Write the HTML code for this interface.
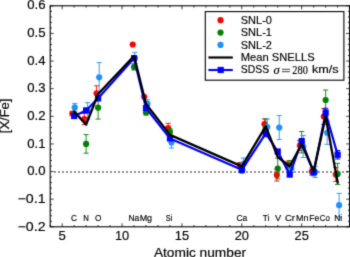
<!DOCTYPE html><html><head><meta charset="utf-8"><style>html,body{margin:0;padding:0;background:#fff;width:350px;height:257px;overflow:hidden}svg{display:block;will-change:transform}text{fill:#000;stroke:#000;stroke-width:0.16px}</style></head><body><svg width="350" height="257" viewBox="0 0 350 257"><defs><filter id="bl" x="0" y="0" width="100%" height="100%" color-interpolation-filters="sRGB"><feConvolveMatrix order="3" kernelMatrix="0.0192 0.1001 0.0192 0.1001 0.5228 0.1001 0.0192 0.1001 0.0192" edgeMode="duplicate"/></filter></defs><g filter="url(#bl)"><rect width="350" height="257" fill="#fff"/><line x1="54.15" y1="172" x2="349.6" y2="172" stroke="#000" stroke-width="1.1" stroke-dasharray="1.7 2.3"/><line x1="72.35" y1="111.5" x2="72.35" y2="115.5" stroke="#ff0000" stroke-width="0.9"/><line x1="69.75" y1="111.5" x2="74.95" y2="111.5" stroke="#ff0000" stroke-width="0.9"/><line x1="69.75" y1="115.5" x2="74.95" y2="115.5" stroke="#ff0000" stroke-width="0.9"/><circle cx="72.35" cy="113.5" r="3.1" fill="#ff0000"/><line x1="84.33" y1="113.4" x2="84.33" y2="124.6" stroke="#ff0000" stroke-width="0.9"/><line x1="81.73" y1="113.4" x2="86.93" y2="113.4" stroke="#ff0000" stroke-width="0.9"/><line x1="81.73" y1="124.6" x2="86.93" y2="124.6" stroke="#ff0000" stroke-width="0.9"/><circle cx="84.33" cy="119" r="3.1" fill="#ff0000"/><line x1="96.6" y1="85.8" x2="96.6" y2="100.8" stroke="#ff0000" stroke-width="0.9"/><line x1="94" y1="85.8" x2="99.2" y2="85.8" stroke="#ff0000" stroke-width="0.9"/><line x1="94" y1="100.8" x2="99.2" y2="100.8" stroke="#ff0000" stroke-width="0.9"/><circle cx="96.6" cy="93.3" r="3.1" fill="#ff0000"/><circle cx="132.73" cy="44.5" r="3.1" fill="#ff0000"/><circle cx="144.21" cy="96.8" r="3.1" fill="#ff0000"/><line x1="168.16" y1="123.3" x2="168.16" y2="132.7" stroke="#ff0000" stroke-width="0.9"/><line x1="165.56" y1="123.3" x2="170.76" y2="123.3" stroke="#ff0000" stroke-width="0.9"/><line x1="165.56" y1="132.7" x2="170.76" y2="132.7" stroke="#ff0000" stroke-width="0.9"/><circle cx="168.16" cy="128" r="3.1" fill="#ff0000"/><line x1="240.02" y1="162.5" x2="240.02" y2="167.5" stroke="#ff0000" stroke-width="0.9"/><line x1="237.42" y1="162.5" x2="242.62" y2="162.5" stroke="#ff0000" stroke-width="0.9"/><line x1="237.42" y1="167.5" x2="242.62" y2="167.5" stroke="#ff0000" stroke-width="0.9"/><circle cx="240.02" cy="165" r="3.1" fill="#ff0000"/><line x1="264.47" y1="118.9" x2="264.47" y2="129.3" stroke="#ff0000" stroke-width="0.9"/><line x1="261.87" y1="118.9" x2="267.07" y2="118.9" stroke="#ff0000" stroke-width="0.9"/><line x1="261.87" y1="129.3" x2="267.07" y2="129.3" stroke="#ff0000" stroke-width="0.9"/><circle cx="264.47" cy="124.1" r="3.1" fill="#ff0000"/><line x1="276.84" y1="169" x2="276.84" y2="181" stroke="#ff0000" stroke-width="0.9"/><line x1="274.24" y1="169" x2="279.44" y2="169" stroke="#ff0000" stroke-width="0.9"/><line x1="274.24" y1="181" x2="279.44" y2="181" stroke="#ff0000" stroke-width="0.9"/><circle cx="276.84" cy="175" r="3.1" fill="#ff0000"/><line x1="287.92" y1="161.2" x2="287.92" y2="168.8" stroke="#ff0000" stroke-width="0.9"/><line x1="285.32" y1="161.2" x2="290.52" y2="161.2" stroke="#ff0000" stroke-width="0.9"/><line x1="285.32" y1="168.8" x2="290.52" y2="168.8" stroke="#ff0000" stroke-width="0.9"/><circle cx="287.92" cy="165" r="3.1" fill="#ff0000"/><line x1="299.9" y1="140.5" x2="299.9" y2="150.5" stroke="#ff0000" stroke-width="0.9"/><line x1="297.3" y1="140.5" x2="302.5" y2="140.5" stroke="#ff0000" stroke-width="0.9"/><line x1="297.3" y1="150.5" x2="302.5" y2="150.5" stroke="#ff0000" stroke-width="0.9"/><circle cx="299.9" cy="145.5" r="3.1" fill="#ff0000"/><line x1="311.87" y1="168.1" x2="311.87" y2="175.1" stroke="#ff0000" stroke-width="0.9"/><line x1="309.27" y1="168.1" x2="314.47" y2="168.1" stroke="#ff0000" stroke-width="0.9"/><line x1="309.27" y1="175.1" x2="314.47" y2="175.1" stroke="#ff0000" stroke-width="0.9"/><circle cx="311.87" cy="171.6" r="3.1" fill="#ff0000"/><line x1="323.85" y1="108.5" x2="323.85" y2="124.5" stroke="#ff0000" stroke-width="0.9"/><line x1="321.25" y1="108.5" x2="326.45" y2="108.5" stroke="#ff0000" stroke-width="0.9"/><line x1="321.25" y1="124.5" x2="326.45" y2="124.5" stroke="#ff0000" stroke-width="0.9"/><circle cx="323.85" cy="116.5" r="3.1" fill="#ff0000"/><line x1="335.82" y1="167.5" x2="335.82" y2="181.5" stroke="#ff0000" stroke-width="0.9"/><line x1="333.22" y1="167.5" x2="338.42" y2="167.5" stroke="#ff0000" stroke-width="0.9"/><line x1="333.22" y1="181.5" x2="338.42" y2="181.5" stroke="#ff0000" stroke-width="0.9"/><circle cx="335.82" cy="174.5" r="3.1" fill="#ff0000"/><line x1="74.15" y1="112.5" x2="74.15" y2="116.5" stroke="#008000" stroke-width="0.9"/><line x1="71.55" y1="112.5" x2="76.75" y2="112.5" stroke="#008000" stroke-width="0.9"/><line x1="71.55" y1="116.5" x2="76.75" y2="116.5" stroke="#008000" stroke-width="0.9"/><circle cx="74.15" cy="114.5" r="3.1" fill="#008000"/><line x1="86.13" y1="134.6" x2="86.13" y2="153.2" stroke="#008000" stroke-width="0.9"/><line x1="83.53" y1="134.6" x2="88.73" y2="134.6" stroke="#008000" stroke-width="0.9"/><line x1="83.53" y1="153.2" x2="88.73" y2="153.2" stroke="#008000" stroke-width="0.9"/><circle cx="86.13" cy="143.9" r="3.1" fill="#008000"/><line x1="98.1" y1="96.3" x2="98.1" y2="119.1" stroke="#008000" stroke-width="0.9"/><line x1="95.5" y1="96.3" x2="100.7" y2="96.3" stroke="#008000" stroke-width="0.9"/><line x1="95.5" y1="119.1" x2="100.7" y2="119.1" stroke="#008000" stroke-width="0.9"/><circle cx="98.1" cy="107.7" r="3.1" fill="#008000"/><line x1="134.03" y1="64" x2="134.03" y2="70" stroke="#008000" stroke-width="0.9"/><line x1="131.43" y1="64" x2="136.63" y2="64" stroke="#008000" stroke-width="0.9"/><line x1="131.43" y1="70" x2="136.63" y2="70" stroke="#008000" stroke-width="0.9"/><circle cx="134.03" cy="67" r="3.1" fill="#008000"/><line x1="146.01" y1="109.8" x2="146.01" y2="115" stroke="#008000" stroke-width="0.9"/><line x1="143.41" y1="109.8" x2="148.61" y2="109.8" stroke="#008000" stroke-width="0.9"/><line x1="143.41" y1="115" x2="148.61" y2="115" stroke="#008000" stroke-width="0.9"/><circle cx="146.01" cy="112.4" r="3.1" fill="#008000"/><line x1="169.96" y1="128.8" x2="169.96" y2="134.8" stroke="#008000" stroke-width="0.9"/><line x1="167.36" y1="128.8" x2="172.56" y2="128.8" stroke="#008000" stroke-width="0.9"/><line x1="167.36" y1="134.8" x2="172.56" y2="134.8" stroke="#008000" stroke-width="0.9"/><circle cx="169.96" cy="131.8" r="3.1" fill="#008000"/><line x1="241.82" y1="168" x2="241.82" y2="173" stroke="#008000" stroke-width="0.9"/><line x1="239.22" y1="168" x2="244.42" y2="168" stroke="#008000" stroke-width="0.9"/><line x1="239.22" y1="173" x2="244.42" y2="173" stroke="#008000" stroke-width="0.9"/><circle cx="241.82" cy="170.5" r="3.1" fill="#008000"/><line x1="265.77" y1="119" x2="265.77" y2="136" stroke="#008000" stroke-width="0.9"/><line x1="263.17" y1="119" x2="268.37" y2="119" stroke="#008000" stroke-width="0.9"/><line x1="263.17" y1="136" x2="268.37" y2="136" stroke="#008000" stroke-width="0.9"/><circle cx="265.77" cy="127.5" r="3.1" fill="#008000"/><line x1="277.74" y1="158.2" x2="277.74" y2="178.8" stroke="#008000" stroke-width="0.9"/><line x1="275.14" y1="158.2" x2="280.34" y2="158.2" stroke="#008000" stroke-width="0.9"/><line x1="275.14" y1="178.8" x2="280.34" y2="178.8" stroke="#008000" stroke-width="0.9"/><circle cx="277.74" cy="168.5" r="3.1" fill="#008000"/><line x1="289.72" y1="160.5" x2="289.72" y2="170.5" stroke="#008000" stroke-width="0.9"/><line x1="287.12" y1="160.5" x2="292.32" y2="160.5" stroke="#008000" stroke-width="0.9"/><line x1="287.12" y1="170.5" x2="292.32" y2="170.5" stroke="#008000" stroke-width="0.9"/><circle cx="289.72" cy="165.5" r="3.1" fill="#008000"/><line x1="301.7" y1="131.5" x2="301.7" y2="152.9" stroke="#008000" stroke-width="0.9"/><line x1="299.1" y1="131.5" x2="304.3" y2="131.5" stroke="#008000" stroke-width="0.9"/><line x1="299.1" y1="152.9" x2="304.3" y2="152.9" stroke="#008000" stroke-width="0.9"/><circle cx="301.7" cy="142.2" r="3.1" fill="#008000"/><line x1="313.67" y1="168.8" x2="313.67" y2="175.8" stroke="#008000" stroke-width="0.9"/><line x1="311.07" y1="168.8" x2="316.27" y2="168.8" stroke="#008000" stroke-width="0.9"/><line x1="311.07" y1="175.8" x2="316.27" y2="175.8" stroke="#008000" stroke-width="0.9"/><circle cx="313.67" cy="172.3" r="3.1" fill="#008000"/><line x1="325.65" y1="90" x2="325.65" y2="110" stroke="#008000" stroke-width="0.9"/><line x1="323.05" y1="90" x2="328.25" y2="90" stroke="#008000" stroke-width="0.9"/><line x1="323.05" y1="110" x2="328.25" y2="110" stroke="#008000" stroke-width="0.9"/><circle cx="325.65" cy="100" r="3.1" fill="#008000"/><line x1="337.62" y1="163.3" x2="337.62" y2="184.5" stroke="#008000" stroke-width="0.9"/><line x1="335.02" y1="163.3" x2="340.22" y2="163.3" stroke="#008000" stroke-width="0.9"/><line x1="335.02" y1="184.5" x2="340.22" y2="184.5" stroke="#008000" stroke-width="0.9"/><circle cx="337.62" cy="173.9" r="3.1" fill="#008000"/><line x1="74.75" y1="103.4" x2="74.75" y2="111.4" stroke="#1e90ff" stroke-width="0.9"/><line x1="72.15" y1="103.4" x2="77.35" y2="103.4" stroke="#1e90ff" stroke-width="0.9"/><line x1="72.15" y1="111.4" x2="77.35" y2="111.4" stroke="#1e90ff" stroke-width="0.9"/><circle cx="74.75" cy="107.4" r="3.1" fill="#1e90ff"/><line x1="87.63" y1="102.6" x2="87.63" y2="119.2" stroke="#1e90ff" stroke-width="0.9"/><line x1="85.03" y1="102.6" x2="90.23" y2="102.6" stroke="#1e90ff" stroke-width="0.9"/><line x1="85.03" y1="119.2" x2="90.23" y2="119.2" stroke="#1e90ff" stroke-width="0.9"/><circle cx="87.63" cy="110.9" r="3.1" fill="#1e90ff"/><line x1="99.2" y1="62.6" x2="99.2" y2="92" stroke="#1e90ff" stroke-width="0.9"/><line x1="96.6" y1="62.6" x2="101.8" y2="62.6" stroke="#1e90ff" stroke-width="0.9"/><line x1="96.6" y1="92" x2="101.8" y2="92" stroke="#1e90ff" stroke-width="0.9"/><circle cx="99.2" cy="77.3" r="3.1" fill="#1e90ff"/><line x1="134.83" y1="52.4" x2="134.83" y2="63.6" stroke="#1e90ff" stroke-width="0.9"/><line x1="132.23" y1="52.4" x2="137.43" y2="52.4" stroke="#1e90ff" stroke-width="0.9"/><line x1="132.23" y1="63.6" x2="137.43" y2="63.6" stroke="#1e90ff" stroke-width="0.9"/><circle cx="134.83" cy="58" r="3.1" fill="#1e90ff"/><line x1="147.51" y1="99.8" x2="147.51" y2="107.8" stroke="#1e90ff" stroke-width="0.9"/><line x1="144.91" y1="99.8" x2="150.11" y2="99.8" stroke="#1e90ff" stroke-width="0.9"/><line x1="144.91" y1="107.8" x2="150.11" y2="107.8" stroke="#1e90ff" stroke-width="0.9"/><circle cx="147.51" cy="103.8" r="3.1" fill="#1e90ff"/><line x1="171.46" y1="136.9" x2="171.46" y2="148.1" stroke="#1e90ff" stroke-width="0.9"/><line x1="168.86" y1="136.9" x2="174.06" y2="136.9" stroke="#1e90ff" stroke-width="0.9"/><line x1="168.86" y1="148.1" x2="174.06" y2="148.1" stroke="#1e90ff" stroke-width="0.9"/><circle cx="171.46" cy="142.5" r="3.1" fill="#1e90ff"/><line x1="243.32" y1="158" x2="243.32" y2="170" stroke="#1e90ff" stroke-width="0.9"/><line x1="240.72" y1="158" x2="245.92" y2="158" stroke="#1e90ff" stroke-width="0.9"/><line x1="240.72" y1="170" x2="245.92" y2="170" stroke="#1e90ff" stroke-width="0.9"/><circle cx="243.32" cy="164" r="3.1" fill="#1e90ff"/><line x1="267.27" y1="119" x2="267.27" y2="135" stroke="#1e90ff" stroke-width="0.9"/><line x1="264.67" y1="119" x2="269.87" y2="119" stroke="#1e90ff" stroke-width="0.9"/><line x1="264.67" y1="135" x2="269.87" y2="135" stroke="#1e90ff" stroke-width="0.9"/><circle cx="267.27" cy="127" r="3.1" fill="#1e90ff"/><line x1="279.24" y1="115.5" x2="279.24" y2="139.5" stroke="#1e90ff" stroke-width="0.9"/><line x1="276.64" y1="115.5" x2="281.84" y2="115.5" stroke="#1e90ff" stroke-width="0.9"/><line x1="276.64" y1="139.5" x2="281.84" y2="139.5" stroke="#1e90ff" stroke-width="0.9"/><circle cx="279.24" cy="127.5" r="3.1" fill="#1e90ff"/><line x1="291.22" y1="164.5" x2="291.22" y2="172.5" stroke="#1e90ff" stroke-width="0.9"/><line x1="288.62" y1="164.5" x2="293.82" y2="164.5" stroke="#1e90ff" stroke-width="0.9"/><line x1="288.62" y1="172.5" x2="293.82" y2="172.5" stroke="#1e90ff" stroke-width="0.9"/><circle cx="291.22" cy="168.5" r="3.1" fill="#1e90ff"/><line x1="303.2" y1="135.5" x2="303.2" y2="157.5" stroke="#1e90ff" stroke-width="0.9"/><line x1="300.6" y1="135.5" x2="305.8" y2="135.5" stroke="#1e90ff" stroke-width="0.9"/><line x1="300.6" y1="157.5" x2="305.8" y2="157.5" stroke="#1e90ff" stroke-width="0.9"/><circle cx="303.2" cy="146.5" r="3.1" fill="#1e90ff"/><line x1="315.17" y1="166.5" x2="315.17" y2="177.5" stroke="#1e90ff" stroke-width="0.9"/><line x1="312.57" y1="166.5" x2="317.77" y2="166.5" stroke="#1e90ff" stroke-width="0.9"/><line x1="312.57" y1="177.5" x2="317.77" y2="177.5" stroke="#1e90ff" stroke-width="0.9"/><circle cx="315.17" cy="172" r="3.1" fill="#1e90ff"/><line x1="327.15" y1="121.2" x2="327.15" y2="144.4" stroke="#1e90ff" stroke-width="0.9"/><line x1="324.55" y1="121.2" x2="329.75" y2="121.2" stroke="#1e90ff" stroke-width="0.9"/><line x1="324.55" y1="144.4" x2="329.75" y2="144.4" stroke="#1e90ff" stroke-width="0.9"/><circle cx="327.15" cy="132.8" r="3.1" fill="#1e90ff"/><line x1="339.12" y1="193.4" x2="339.12" y2="217" stroke="#1e90ff" stroke-width="0.9"/><line x1="336.52" y1="193.4" x2="341.72" y2="193.4" stroke="#1e90ff" stroke-width="0.9"/><line x1="336.52" y1="217" x2="341.72" y2="217" stroke="#1e90ff" stroke-width="0.9"/><circle cx="339.12" cy="205.2" r="3.1" fill="#1e90ff"/><path d="M265.77 129.8V136.8M263.17 129.8H268.37M263.17 136.8H268.37" stroke="#0000ff" stroke-width="1.1" fill="none"/><path d="M325.65 108.3V117.1M323.05 108.3H328.25M323.05 117.1H328.25" stroke="#0000ff" stroke-width="1.1" fill="none"/><path d="M337.62 150.6V159M335.02 150.6H340.22M335.02 159H340.22" stroke="#0000ff" stroke-width="1.1" fill="none"/><polyline points="74.15,116 86.13,110.4 98.1,98.3 134.03,58.2 146.01,108 169.96,138.4 241.82,169.8 265.77,133.3 277.74,151.5 289.72,174.6 301.7,141.1 313.67,172.2 325.65,112.7 337.62,154.8" fill="none" stroke="#0000ff" stroke-width="2.2" stroke-linejoin="round" stroke-linecap="square"/><rect x="71.05" y="112.9" width="6.2" height="6.2" fill="#0000ff"/><rect x="83.03" y="107.3" width="6.2" height="6.2" fill="#0000ff"/><rect x="95" y="95.2" width="6.2" height="6.2" fill="#0000ff"/><rect x="130.93" y="55.1" width="6.2" height="6.2" fill="#0000ff"/><rect x="142.91" y="104.9" width="6.2" height="6.2" fill="#0000ff"/><rect x="166.86" y="135.3" width="6.2" height="6.2" fill="#0000ff"/><rect x="238.72" y="166.7" width="6.2" height="6.2" fill="#0000ff"/><rect x="262.67" y="130.2" width="6.2" height="6.2" fill="#0000ff"/><rect x="274.64" y="148.4" width="6.2" height="6.2" fill="#0000ff"/><rect x="286.62" y="171.5" width="6.2" height="6.2" fill="#0000ff"/><rect x="298.6" y="138" width="6.2" height="6.2" fill="#0000ff"/><rect x="310.57" y="169.1" width="6.2" height="6.2" fill="#0000ff"/><rect x="322.55" y="109.6" width="6.2" height="6.2" fill="#0000ff"/><rect x="334.52" y="151.7" width="6.2" height="6.2" fill="#0000ff"/><polyline points="74.15,111.5 86.13,124.6 98.1,94 134.03,56 146.01,104 169.96,134.9 241.82,166.4 265.77,126.3 277.74,157 289.72,166.3 301.7,144.2 313.67,171.4 325.65,116.6 337.62,182.5" fill="none" stroke="#000" stroke-width="2.3" stroke-linejoin="round" stroke-linecap="square"/><g stroke="#000" stroke-width="0.75"><line x1="50.2" y1="226.8" x2="50.2" y2="225"/><line x1="50.2" y1="5.8" x2="50.2" y2="7.6"/><line x1="62.18" y1="226.8" x2="62.18" y2="223.3"/><line x1="62.18" y1="5.8" x2="62.18" y2="9.3"/><line x1="74.15" y1="226.8" x2="74.15" y2="225"/><line x1="74.15" y1="5.8" x2="74.15" y2="7.6"/><line x1="86.13" y1="226.8" x2="86.13" y2="225"/><line x1="86.13" y1="5.8" x2="86.13" y2="7.6"/><line x1="98.1" y1="226.8" x2="98.1" y2="225"/><line x1="98.1" y1="5.8" x2="98.1" y2="7.6"/><line x1="110.08" y1="226.8" x2="110.08" y2="225"/><line x1="110.08" y1="5.8" x2="110.08" y2="7.6"/><line x1="122.06" y1="226.8" x2="122.06" y2="223.3"/><line x1="122.06" y1="5.8" x2="122.06" y2="9.3"/><line x1="134.03" y1="226.8" x2="134.03" y2="225"/><line x1="134.03" y1="5.8" x2="134.03" y2="7.6"/><line x1="146.01" y1="226.8" x2="146.01" y2="225"/><line x1="146.01" y1="5.8" x2="146.01" y2="7.6"/><line x1="157.98" y1="226.8" x2="157.98" y2="225"/><line x1="157.98" y1="5.8" x2="157.98" y2="7.6"/><line x1="169.96" y1="226.8" x2="169.96" y2="225"/><line x1="169.96" y1="5.8" x2="169.96" y2="7.6"/><line x1="181.94" y1="226.8" x2="181.94" y2="223.3"/><line x1="181.94" y1="5.8" x2="181.94" y2="9.3"/><line x1="193.91" y1="226.8" x2="193.91" y2="225"/><line x1="193.91" y1="5.8" x2="193.91" y2="7.6"/><line x1="205.89" y1="226.8" x2="205.89" y2="225"/><line x1="205.89" y1="5.8" x2="205.89" y2="7.6"/><line x1="217.86" y1="226.8" x2="217.86" y2="225"/><line x1="217.86" y1="5.8" x2="217.86" y2="7.6"/><line x1="229.84" y1="226.8" x2="229.84" y2="225"/><line x1="229.84" y1="5.8" x2="229.84" y2="7.6"/><line x1="241.82" y1="226.8" x2="241.82" y2="223.3"/><line x1="241.82" y1="5.8" x2="241.82" y2="9.3"/><line x1="253.79" y1="226.8" x2="253.79" y2="225"/><line x1="253.79" y1="5.8" x2="253.79" y2="7.6"/><line x1="265.77" y1="226.8" x2="265.77" y2="225"/><line x1="265.77" y1="5.8" x2="265.77" y2="7.6"/><line x1="277.74" y1="226.8" x2="277.74" y2="225"/><line x1="277.74" y1="5.8" x2="277.74" y2="7.6"/><line x1="289.72" y1="226.8" x2="289.72" y2="225"/><line x1="289.72" y1="5.8" x2="289.72" y2="7.6"/><line x1="301.7" y1="226.8" x2="301.7" y2="223.3"/><line x1="301.7" y1="5.8" x2="301.7" y2="9.3"/><line x1="313.67" y1="226.8" x2="313.67" y2="225"/><line x1="313.67" y1="5.8" x2="313.67" y2="7.6"/><line x1="325.65" y1="226.8" x2="325.65" y2="225"/><line x1="325.65" y1="5.8" x2="325.65" y2="7.6"/><line x1="337.62" y1="226.8" x2="337.62" y2="225"/><line x1="337.62" y1="5.8" x2="337.62" y2="7.6"/><line x1="349.6" y1="226.8" x2="349.6" y2="225"/><line x1="349.6" y1="5.8" x2="349.6" y2="7.6"/><line x1="50.2" y1="226.8" x2="53.7" y2="226.8"/><line x1="349.6" y1="226.8" x2="346.1" y2="226.8"/><line x1="50.2" y1="221.28" x2="52" y2="221.28"/><line x1="349.6" y1="221.28" x2="347.8" y2="221.28"/><line x1="50.2" y1="215.75" x2="52" y2="215.75"/><line x1="349.6" y1="215.75" x2="347.8" y2="215.75"/><line x1="50.2" y1="210.22" x2="52" y2="210.22"/><line x1="349.6" y1="210.22" x2="347.8" y2="210.22"/><line x1="50.2" y1="204.7" x2="52" y2="204.7"/><line x1="349.6" y1="204.7" x2="347.8" y2="204.7"/><line x1="50.2" y1="199.17" x2="53.7" y2="199.17"/><line x1="349.6" y1="199.17" x2="346.1" y2="199.17"/><line x1="50.2" y1="193.65" x2="52" y2="193.65"/><line x1="349.6" y1="193.65" x2="347.8" y2="193.65"/><line x1="50.2" y1="188.12" x2="52" y2="188.12"/><line x1="349.6" y1="188.12" x2="347.8" y2="188.12"/><line x1="50.2" y1="182.6" x2="52" y2="182.6"/><line x1="349.6" y1="182.6" x2="347.8" y2="182.6"/><line x1="50.2" y1="177.08" x2="52" y2="177.08"/><line x1="349.6" y1="177.08" x2="347.8" y2="177.08"/><line x1="50.2" y1="171.55" x2="53.7" y2="171.55"/><line x1="349.6" y1="171.55" x2="346.1" y2="171.55"/><line x1="50.2" y1="166.02" x2="52" y2="166.02"/><line x1="349.6" y1="166.02" x2="347.8" y2="166.02"/><line x1="50.2" y1="160.5" x2="52" y2="160.5"/><line x1="349.6" y1="160.5" x2="347.8" y2="160.5"/><line x1="50.2" y1="154.97" x2="52" y2="154.97"/><line x1="349.6" y1="154.97" x2="347.8" y2="154.97"/><line x1="50.2" y1="149.45" x2="52" y2="149.45"/><line x1="349.6" y1="149.45" x2="347.8" y2="149.45"/><line x1="50.2" y1="143.93" x2="53.7" y2="143.93"/><line x1="349.6" y1="143.93" x2="346.1" y2="143.93"/><line x1="50.2" y1="138.4" x2="52" y2="138.4"/><line x1="349.6" y1="138.4" x2="347.8" y2="138.4"/><line x1="50.2" y1="132.88" x2="52" y2="132.88"/><line x1="349.6" y1="132.88" x2="347.8" y2="132.88"/><line x1="50.2" y1="127.35" x2="52" y2="127.35"/><line x1="349.6" y1="127.35" x2="347.8" y2="127.35"/><line x1="50.2" y1="121.82" x2="52" y2="121.82"/><line x1="349.6" y1="121.82" x2="347.8" y2="121.82"/><line x1="50.2" y1="116.3" x2="53.7" y2="116.3"/><line x1="349.6" y1="116.3" x2="346.1" y2="116.3"/><line x1="50.2" y1="110.77" x2="52" y2="110.77"/><line x1="349.6" y1="110.77" x2="347.8" y2="110.77"/><line x1="50.2" y1="105.25" x2="52" y2="105.25"/><line x1="349.6" y1="105.25" x2="347.8" y2="105.25"/><line x1="50.2" y1="99.72" x2="52" y2="99.72"/><line x1="349.6" y1="99.72" x2="347.8" y2="99.72"/><line x1="50.2" y1="94.2" x2="52" y2="94.2"/><line x1="349.6" y1="94.2" x2="347.8" y2="94.2"/><line x1="50.2" y1="88.67" x2="53.7" y2="88.67"/><line x1="349.6" y1="88.67" x2="346.1" y2="88.67"/><line x1="50.2" y1="83.15" x2="52" y2="83.15"/><line x1="349.6" y1="83.15" x2="347.8" y2="83.15"/><line x1="50.2" y1="77.62" x2="52" y2="77.62"/><line x1="349.6" y1="77.62" x2="347.8" y2="77.62"/><line x1="50.2" y1="72.1" x2="52" y2="72.1"/><line x1="349.6" y1="72.1" x2="347.8" y2="72.1"/><line x1="50.2" y1="66.58" x2="52" y2="66.58"/><line x1="349.6" y1="66.58" x2="347.8" y2="66.58"/><line x1="50.2" y1="61.05" x2="53.7" y2="61.05"/><line x1="349.6" y1="61.05" x2="346.1" y2="61.05"/><line x1="50.2" y1="55.52" x2="52" y2="55.52"/><line x1="349.6" y1="55.52" x2="347.8" y2="55.52"/><line x1="50.2" y1="50" x2="52" y2="50"/><line x1="349.6" y1="50" x2="347.8" y2="50"/><line x1="50.2" y1="44.47" x2="52" y2="44.47"/><line x1="349.6" y1="44.47" x2="347.8" y2="44.47"/><line x1="50.2" y1="38.95" x2="52" y2="38.95"/><line x1="349.6" y1="38.95" x2="347.8" y2="38.95"/><line x1="50.2" y1="33.42" x2="53.7" y2="33.42"/><line x1="349.6" y1="33.42" x2="346.1" y2="33.42"/><line x1="50.2" y1="27.9" x2="52" y2="27.9"/><line x1="349.6" y1="27.9" x2="347.8" y2="27.9"/><line x1="50.2" y1="22.37" x2="52" y2="22.37"/><line x1="349.6" y1="22.37" x2="347.8" y2="22.37"/><line x1="50.2" y1="16.85" x2="52" y2="16.85"/><line x1="349.6" y1="16.85" x2="347.8" y2="16.85"/><line x1="50.2" y1="11.32" x2="52" y2="11.32"/><line x1="349.6" y1="11.32" x2="347.8" y2="11.32"/><line x1="50.2" y1="5.8" x2="53.7" y2="5.8"/><line x1="349.6" y1="5.8" x2="346.1" y2="5.8"/></g><rect x="50.2" y="5.8" width="299.4" height="221" fill="none" stroke="#000" stroke-width="1.1"/><text x="27.3" y="9.2" font-size="12.3" text-anchor="start" font-family="Liberation Sans" textLength="18.3" lengthAdjust="spacingAndGlyphs">0.6</text><text x="27.3" y="36.89" font-size="12.3" text-anchor="start" font-family="Liberation Sans" textLength="18.3" lengthAdjust="spacingAndGlyphs">0.5</text><text x="27.3" y="64.58" font-size="12.3" text-anchor="start" font-family="Liberation Sans" textLength="18.3" lengthAdjust="spacingAndGlyphs">0.4</text><text x="27.3" y="92.28" font-size="12.3" text-anchor="start" font-family="Liberation Sans" textLength="18.3" lengthAdjust="spacingAndGlyphs">0.3</text><text x="27.3" y="119.97" font-size="12.3" text-anchor="start" font-family="Liberation Sans" textLength="18.3" lengthAdjust="spacingAndGlyphs">0.2</text><text x="27.3" y="147.66" font-size="12.3" text-anchor="start" font-family="Liberation Sans" textLength="18.3" lengthAdjust="spacingAndGlyphs">0.1</text><text x="27.3" y="175.35" font-size="12.3" text-anchor="start" font-family="Liberation Sans" textLength="18.3" lengthAdjust="spacingAndGlyphs">0.0</text><text x="17.6" y="203.04" font-size="12.3" text-anchor="start" font-family="Liberation Sans" textLength="28" lengthAdjust="spacingAndGlyphs">&#8722;0.1</text><text x="17.6" y="230.73" font-size="12.3" text-anchor="start" font-family="Liberation Sans" textLength="28" lengthAdjust="spacingAndGlyphs">&#8722;0.2</text><text x="58.53" y="240.2" font-size="13.2" text-anchor="start" font-family="Liberation Sans" textLength="7.3" lengthAdjust="spacingAndGlyphs">5</text><text x="114.91" y="240.2" font-size="13.2" text-anchor="start" font-family="Liberation Sans" textLength="14.3" lengthAdjust="spacingAndGlyphs">10</text><text x="174.79" y="240.2" font-size="13.2" text-anchor="start" font-family="Liberation Sans" textLength="14.3" lengthAdjust="spacingAndGlyphs">15</text><text x="234.67" y="240.2" font-size="13.2" text-anchor="start" font-family="Liberation Sans" textLength="14.3" lengthAdjust="spacingAndGlyphs">20</text><text x="294.55" y="240.2" font-size="13.2" text-anchor="start" font-family="Liberation Sans" textLength="14.3" lengthAdjust="spacingAndGlyphs">25</text><text x="71" y="221.1" font-size="9.5" text-anchor="start" font-family="Liberation Sans" textLength="6" lengthAdjust="spacingAndGlyphs">C</text><text x="83.2" y="221.1" font-size="9.5" text-anchor="start" font-family="Liberation Sans" textLength="5.6" lengthAdjust="spacingAndGlyphs">N</text><text x="94.9" y="221.1" font-size="9.5" text-anchor="start" font-family="Liberation Sans" textLength="6.4" lengthAdjust="spacingAndGlyphs">O</text><text x="128.5" y="221.1" font-size="9.5" text-anchor="start" font-family="Liberation Sans" textLength="10.8" lengthAdjust="spacingAndGlyphs">Na</text><text x="139.7" y="221.1" font-size="9.5" text-anchor="start" font-family="Liberation Sans" textLength="12.4" lengthAdjust="spacingAndGlyphs">Mg</text><text x="165.7" y="221.1" font-size="9.5" text-anchor="start" font-family="Liberation Sans" textLength="6.6" lengthAdjust="spacingAndGlyphs">Si</text><text x="236.4" y="221.1" font-size="9.5" text-anchor="start" font-family="Liberation Sans" textLength="10.8" lengthAdjust="spacingAndGlyphs">Ca</text><text x="262.7" y="221.1" font-size="9.5" text-anchor="start" font-family="Liberation Sans" textLength="6.6" lengthAdjust="spacingAndGlyphs">Ti</text><text x="274.9" y="221.1" font-size="9.5" text-anchor="start" font-family="Liberation Sans" textLength="6.2" lengthAdjust="spacingAndGlyphs">V</text><text x="285" y="221.1" font-size="9.5" text-anchor="start" font-family="Liberation Sans" textLength="10" lengthAdjust="spacingAndGlyphs">Cr</text><text x="296.1" y="221.1" font-size="9.5" text-anchor="start" font-family="Liberation Sans" textLength="12.4" lengthAdjust="spacingAndGlyphs">Mn</text><text x="309.3" y="221.1" font-size="9.5" text-anchor="start" font-family="Liberation Sans" textLength="10" lengthAdjust="spacingAndGlyphs">Fe</text><text x="319.8" y="221.1" font-size="9.5" text-anchor="start" font-family="Liberation Sans" textLength="10" lengthAdjust="spacingAndGlyphs">Co</text><text x="334.2" y="221.1" font-size="9.5" text-anchor="start" font-family="Liberation Sans" textLength="8" lengthAdjust="spacingAndGlyphs">Ni</text><text x="153.9" y="256.9" font-size="12.2" text-anchor="start" font-family="Liberation Sans" textLength="92.2" lengthAdjust="spacingAndGlyphs">Atomic number</text><text transform="translate(9.0,133.2) rotate(-90)" x="0" y="0" font-size="12.1" font-family="Liberation Sans" textLength="34.6" lengthAdjust="spacingAndGlyphs">[X/Fe]</text><rect x="205.3" y="11.6" width="138.6" height="68.6" fill="#fff" stroke="#000" stroke-width="1.1"/><circle cx="220.5" cy="20.2" r="3.1" fill="#ff0000"/><circle cx="220.5" cy="32.6" r="3.1" fill="#008000"/><circle cx="220.5" cy="44.9" r="3.1" fill="#1e90ff"/><line x1="208.4" y1="57.5" x2="232.8" y2="57.5" stroke="#000" stroke-width="2.2"/><line x1="208.4" y1="70" x2="232.8" y2="70" stroke="#0000ff" stroke-width="2.1"/><rect x="217.6" y="66.9" width="6.2" height="6.2" fill="#0000ff"/><text x="240.8" y="23.8" font-size="11" text-anchor="start" font-family="Liberation Sans" textLength="31.1" lengthAdjust="spacingAndGlyphs">SNL-0</text><text x="240.8" y="36.2" font-size="11" text-anchor="start" font-family="Liberation Sans" textLength="31.1" lengthAdjust="spacingAndGlyphs">SNL-1</text><text x="240.8" y="48.5" font-size="11" text-anchor="start" font-family="Liberation Sans" textLength="31.1" lengthAdjust="spacingAndGlyphs">SNL-2</text><text x="240.8" y="60.9" font-size="11" text-anchor="start" font-family="Liberation Sans" textLength="73.9" lengthAdjust="spacingAndGlyphs">Mean SNELLS</text><text x="240.8" y="73.3" font-size="11" text-anchor="start" font-family="Liberation Sans" textLength="28.3" lengthAdjust="spacingAndGlyphs">SDSS</text><text x="273.6" y="73.7" font-size="12.2" text-anchor="start" font-family="Liberation Serif" textLength="6.2" lengthAdjust="spacingAndGlyphs" font-style="italic">&#963;</text><line x1="281.9" y1="69.3" x2="290.1" y2="69.3" stroke="#000" stroke-width="0.75"/><line x1="281.9" y1="71.7" x2="290.1" y2="71.7" stroke="#000" stroke-width="0.75"/><text x="292.3" y="73.7" font-size="12.2" text-anchor="start" font-family="Liberation Serif" textLength="15.6" lengthAdjust="spacingAndGlyphs">280</text><text x="311.9" y="73.3" font-size="11" text-anchor="start" font-family="Liberation Sans" textLength="26.7" lengthAdjust="spacingAndGlyphs">km/s</text></g></svg></body></html>
